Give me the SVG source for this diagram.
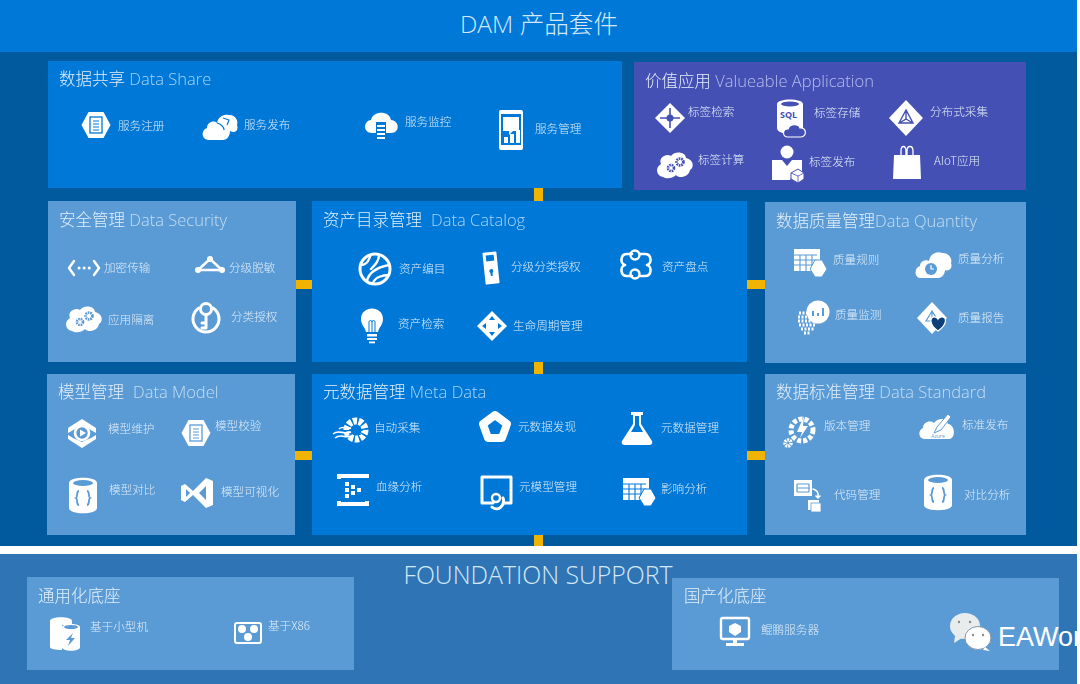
<svg xmlns="http://www.w3.org/2000/svg" width="1080" height="684" viewBox="0 0 1080 684" stroke-width="2.4">
<style>
text{font-family:"Open Sans","Noto Sans CJK SC",sans-serif;stroke:none}
.h{font-size:16.5px;font-weight:300;fill:#e2eff9;filter:url(#soft)}
.a{fill:#a8d5f7}.b{fill:#c3ddf3}.p{fill:#b4bdec}
.l{font-size:11.6px;fill:#dcebf7;font-family:"Noto Sans CJK SC","Noto Sans",sans-serif;font-weight:300;filter:url(#soft)}
.big{font-weight:300;fill:#d3e8f8;text-anchor:middle}
.dk{fill:#0078d7}.lt{fill:#5b9bd5}.pu{fill:#4550b4}
.c{fill:#f0b400}
.w{fill:#fff}
.s{fill:none;stroke:#fff;stroke-linecap:round;stroke-linejoin:round}
.k{fill:none;stroke:currentColor}
.kf{fill:currentColor}
</style>
<defs>
<filter id="soft" x="-5%" y="-15%" width="110%" height="130%"><feGaussianBlur stdDeviation="0.3"/></filter>
<g id="hexdoc"><polygon class="w" points="-14.500,0 -7.500,-13 7.500,-13 14.500,0 7.500,13 -7.500,13"/><rect class="k" stroke-width="1.300" x="-6" y="-8" width="12" height="16"/><path class="k" d="M-3,-4H3M-3,-1H3M-3,2H3M-3,5H3" stroke-width="1"/></g>
<g id="cloudgears"><path class="w" d="M-12,13C-19,12 -20,3 -14,0C-17,-7 -8,-11 -4,-8C0,-14 11,-12 11,-6C18,-5 20,3 15,6C14,13 4,15 1,11C-3,15 -9,15 -12,13Z"/><circle class="k" cx="-4" cy="4" r="3" stroke-width="2.600" stroke-dasharray="1.600 .8"/><circle class="k" cx="5" cy="-2" r="3.400" stroke-width="2.800" stroke-dasharray="1.600 .8"/></g>
<g id="dbcode"><path class="w" d="M-14,-12C-14,-19 14,-19 14,-12V13C14,20 -14,20 -14,13Z"/><ellipse class="kf" cx="0" cy="-12" rx="10" ry="3"/><path class="k" stroke-width="1.800" d="M-4,-4C-7,-4 -5,2 -7,3C-5,4 -7,10 -4,10M4,-4C7,-4 5,2 7,3C5,4 7,10 4,10"/></g>
<g id="tablehex"><rect class="w" x="-15" y="-14" width="26" height="22"/><path class="k" d="M-15,-8H8M-15,-3H8M-15,2H8M-9,-8V8M-3,-8V8M3,-8V8" stroke-width="1.100"/><polygon class="w" stroke="currentColor" stroke-width="1" points="1,6 6,-3 13,-3 18,6 13,14 6,14"/></g>
<g id="diamond"><polygon class="w" points="0,-15 15,0 0,15 -15,0"/></g>
</defs>

<rect x="0" y="0" width="1080" height="684" fill="#fff"/>
<rect x="0" y="0" width="1077" height="52" fill="#0078d7"/>
<rect x="0" y="52" width="1077" height="494" fill="#015a9e"/>
<rect x="0" y="554" width="1077" height="130" fill="#2f75b5"/>
<text class="big" font-size="24.600" x="539" y="33">DAM 产品套件</text>

<g id="connectors" class="c">
<rect x="534" y="188" width="9" height="13"/>
<rect x="296" y="280" width="16" height="9"/>
<rect x="747" y="280" width="18" height="9"/>
<rect x="534" y="362" width="9" height="12"/>
<rect x="295" y="451" width="17" height="9"/>
<rect x="747" y="451" width="18" height="9"/>
<rect x="534" y="535" width="9" height="11"/>
</g>

<g id="data-share" color="#0078d7">
<rect class="dk" x="48" y="61" width="574" height="127"/>
<text class="h" x="59" y="85">数据共享 <tspan class="a">Data Share</tspan></text>
<use href="#hexdoc" transform="translate(96,125)"/>
<text class="l" x="118" y="130">服务注册</text>
<g transform="translate(221,127)"><path class="w" d="M-13,13C-20,12 -20,3 -14,1C-14,-5 -7,-7 -4,-4C-3,-11 4,-13 8,-12C13,-13 18,-7 16,-2C18,3 14,7 9,4C9,9 6,13 2,13Z"/><path class="k" stroke-width="1.200" d="M-4,-4C0,-3 3,0 3,3M2,-9L8,-7L6,-2"/></g>
<text class="l" x="244" y="129">服务发布</text>
<g transform="translate(381,124)"><path class="w" d="M-9,9C-18,9 -18,-3 -10,-4C-8,-13 8,-14 10,-4C19,-3 19,9 10,9H5V-2H-5V9Z"/><path class="s" stroke-width="2" style="stroke-linecap:butt" d="M-4,2H4M-4,6H4M-4,10H4M-4,14H4"/></g>
<text class="l" x="405" y="126">服务监控</text>
<g transform="translate(511,130)"><rect class="w" x="-12" y="-20" width="24" height="40" rx="2"/><rect class="kf" x="-10" y="-16" width="20" height="31"/><path class="w" d="M-8,-13H8V1H2L-2,5V1H-8Z"/><path class="w" d="M-7,13V7H-3V13ZM-1,13V4H3V13ZM5,13V0H9V13Z"/></g>
<text class="l" x="535" y="133">服务管理</text>
</g>

<g id="value-application" color="#4550b4">
<rect class="pu" x="634" y="62" width="392" height="128"/>
<text class="h" x="645" y="87">价值应用 <tspan class="p">Valueable Application</tspan></text>
<g transform="translate(670,118)"><use href="#diamond"/><path class="k" stroke-width="1.600" d="M-10,0H10M0,-10V10"/><circle class="kf" cx="0" cy="0" r="3.500"/></g>
<text class="l" x="688" y="116">标签检索</text>
<g transform="translate(790,117)"><path class="w" d="M-13,-13C-13,-19 13,-19 13,-13V11C13,15 6,17 0,17C-6,17 -13,15 -13,11Z"/><ellipse class="kf" cx="0" cy="-13" rx="9" ry="2.500"/><text x="-10" y="1" font-size="9" font-weight="700" fill="#4550b4">SQL</text><path d="M-2,20C-8,20 -8,12 -2,12C0,6 9,7 10,11C17,10 17,20 11,20Z" fill="#4550b4" stroke="#fff" stroke-width="1.200"/></g>
<text class="l" x="814" y="117">标签存储</text>
<g transform="translate(906,118)"><polygon class="w" points="0,-18 17,0 0,18 -17,0"/><path class="k" stroke-width="1.400" d="M0,-8L-7,5H7ZM0,-8V1L-7,5M0,1L7,5"/></g>
<text class="l" x="930" y="116">分布式采集</text>
<use href="#cloudgears" transform="translate(675,164)"/>
<text class="l" x="698" y="164">标签计算</text>
<g transform="translate(787,164)"><circle class="w" cx="0" cy="-12" r="6.500"/><path class="w" d="M-15,-4H-5L0,2L5,-4H15V8H6L3,16H-15Z"/><path d="M4,9L11,5L17,9V15L11,19L4,15Z" fill="#fff" stroke="#4550b4" stroke-width="1"/><path class="k" stroke-width=".8" d="M4,9L11,12L17,9M11,12V19"/></g>
<text class="l" x="809" y="166">标签发布</text>
<g transform="translate(907,162)"><path class="w" d="M-13,-7H13L14,17H-14Z"/><path class="s" stroke-width="1.300" d="M-6,-7V-11C-6,-17 -1,-17 -1,-11V-7M0,-7V-11C0,-17 6,-17 6,-11V-7"/></g>
<text class="l" x="934" y="165">AIoT应用</text>
</g>

<g id="data-security" color="#5b9bd5">
<rect class="lt" x="48" y="201" width="248" height="161"/>
<text class="h" x="59" y="226">安全管理 <tspan class="b">Data Security</tspan></text>
<path class="s" transform="translate(84,268)" d="M-10,-7L-15,0L-10,7M10,-7L15,0L10,7"/>
<path class="s" stroke-width="3" stroke-dasharray=".1 5" transform="translate(84,268)" d="M-5,0H6"/>
<text class="l" x="104" y="272">加密传输</text>
<g transform="translate(210,265)"><path class="s" d="M0,-6L-12,5H12Z"/><circle class="w" cx="0" cy="-6" r="3"/><circle class="w" cx="-12" cy="5" r="3"/><circle class="w" cx="12" cy="5" r="3"/></g>
<text class="l" x="229" y="272">分级脱敏</text>
<use href="#cloudgears" transform="translate(84,318)"/>
<text class="l" x="108" y="324">应用隔离</text>
<g transform="translate(206,319)"><path class="s" stroke-width="3" d="M-7,-11A13,13 0 1 0 7,-11"/><circle class="s" stroke-width="3" cx="0" cy="-10" r="5.500"/><path class="s" stroke-width="3" d="M0,-4V9M0,4H-4M0,9H-4"/></g>
<text class="l" x="231" y="321">分类授权</text>
</g>

<g id="data-catalog" color="#0078d7">
<rect class="dk" x="312" y="201" width="435" height="161"/>
<text class="h" x="323" y="226">资产目录管理 <tspan class="a" x="431">Data Catalog</tspan></text>
<g transform="translate(375,269)"><circle class="s" r="15" stroke-width="3"/><path class="s" d="M-14,-4C-6,-4 -6,-12 -4,-14M-8,12C-6,2 4,-2 14,-4M-2,14C0,8 8,6 14,6M4,-14C4,-8 0,-4 -4,0"/></g>
<text class="l" x="399" y="273">资产编目</text>
<g transform="translate(491,268) rotate(-6)"><rect class="w" x="-7" y="-16" width="14" height="32" rx="1"/><rect class="kf" x="-4" y="-13" width="8" height="6"/><circle class="kf" cx="0" cy="3" r="2"/><rect class="kf" x="-1" y="3" width="2" height="5"/></g>
<text class="l" x="511" y="271">分级分类授权</text>
<g transform="translate(636,265)"><path class="s" stroke-width="2.600" d="M-4,-11H-9C-16,-11 -16,-1 -11,0C-16,1 -16,11 -9,11H-4M4,-11H9C16,-11 16,-1 11,0C16,1 16,11 9,11H4"/><circle class="s" cx="-1" cy="-10" r="4.500"/><circle class="s" cx="-1" cy="9" r="4.500"/></g>
<text class="l" x="662" y="271">资产盘点</text>
<g transform="translate(372,325)"><path class="w" d="M-6,7C-7,2 -11,0 -11,-6C-11,-20 11,-20 11,-6C11,0 7,2 6,7Z"/><path class="k" stroke-width="1" d="M-3,7V-3A1.500,1.500 0 0 1 0,-3V7M0,-3A1.500,1.500 0 0 1 3,-3V7"/><rect class="w" x="-5" y="9" width="10" height="2.500"/><rect class="w" x="-5" y="13" width="10" height="2"/><rect class="w" x="-3" y="16.500" width="6" height="1.800"/></g>
<text class="l" x="398" y="328">资产检索</text>
<g transform="translate(492,326)"><use href="#diamond"/><path class="kf" d="M0,-10L3,-6H-3ZM0,10L3,6H-3ZM-10,0L-6,3V-3ZM10,0L6,3V-3Z"/></g>
<text class="l" x="513" y="330">生命周期管理</text>
</g>

<g id="data-quality" color="#5b9bd5">
<rect class="lt" x="765" y="202" width="261" height="161"/>
<text class="h" x="776" y="227">数据质量管理<tspan class="b">Data Quantity</tspan></text>
<use href="#tablehex" transform="translate(809,263)"/>
<text class="l" x="833" y="264">质量规则</text>
<g transform="translate(934,265)"><path class="w" d="M-14,13C-20,12 -20,3 -14,1C-14,-4 -8,-6 -5,-4C-4,-12 4,-14 8,-12C13,-13 19,-7 17,-2C19,3 15,7 11,5C11,9 8,13 4,13Z"/><circle class="kf" cx="-3" cy="4" r="6"/><path d="M-3,0V4H0" stroke="#fff" fill="none" stroke-width="1.200"/></g>
<text class="l" x="958" y="263">质量分析</text>
<g transform="translate(812,319)"><path class="s" stroke-width="3" style="stroke-linecap:butt" stroke-dasharray="2 1.500" d="M-13,-6H4M-14,-2H6M-14,2H6M-13,6H4M-11,10H2M-8,14H-1"/><circle class="w" cx="6" cy="-7" r="11.500"/><path class="k" stroke-width="2" d="M1,-3V-8M6,-3V-6M11,-3V-11"/></g>
<text class="l" x="835" y="319">质量监测</text>
<g transform="translate(934,318)"><polygon class="w" points="-2,-16 13,0 -2,16 -17,0"/><path class="k" stroke-width="1.200" d="M-2,-7L-8,3H4ZM-2,-7V0"/><path d="M4,13C-6,6 -4,-2 1,-1C3,-1 4,1 4,1C4,1 5,-1 7,-1C13,-2 14,6 4,13Z" fill="#0c3f78" stroke="#fff" stroke-width="1.300"/></g>
<text class="l" x="958" y="322">质量报告</text>
</g>

<g id="data-model" color="#5b9bd5">
<rect class="lt" x="47" y="374" width="248" height="161"/>
<text class="h" x="58" y="398">模型管理 <tspan class="b" x="133">Data Model</tspan></text>
<g transform="translate(82,433)"><path class="w" d="M-14,-5L0,-14L14,-5V0L0,-8L-14,0ZM-14,2L-9,5L0,9L9,5L14,2V6L0,15L-14,6Z"/><circle class="s" r="7" stroke-width="2.600"/><polygon class="w" points="-2,-3.500 4,0 -2,3.500"/></g>
<text class="l" x="108" y="433">模型维护</text>
<use href="#hexdoc" transform="translate(196,433)"/>
<text class="l" x="215" y="430">模型校验</text>
<use href="#dbcode" transform="translate(83,495)"/>
<text class="l" x="109" y="494">模型对比</text>
<path class="w" transform="translate(197,493)" d="M-16,-7L-12,-9L-4,-2L9,-15L16,-12V12L9,15L-4,2L-12,9L-16,7ZM-11,-4V4L-7,0ZM9,-7L2,0L9,7Z" fill-rule="evenodd"/>
<text class="l" x="221" y="496">模型可视化</text>
</g>

<g id="meta-data" color="#0078d7">
<rect class="dk" x="312" y="374" width="435" height="161"/>
<text class="h" x="323" y="398">元数据管理 <tspan class="a">Meta Data</tspan></text>
<g transform="translate(351,430)"><circle class="s" cx="5" cy="0" r="9" stroke-width="7" style="stroke-linecap:butt" stroke-dasharray="4 1.600"/><path fill="none" stroke="#fff" stroke-width="1.600" d="M-18,4C-12,-1 -8,5 -2,2M-16,8C-10,3 -6,9 0,6M-12,-1C-8,-5 -6,0 0,-2"/><path fill="none" stroke="#0078d7" stroke-width="1.200" d="M-2,0C2,-2 6,2 12,0M-2,4C2,2 6,6 10,4"/></g>
<text class="l" x="374" y="432">自动采集</text>
<g transform="translate(495,427)"><path class="s" stroke-width="8" d="M0,-12L12,-3L7,11H-7L-12,-3Z"/></g>
<text class="l" x="518" y="431">元数据发现</text>
<g transform="translate(637,429)"><path class="w" d="M-6,-17H6V-14H4V-5L15,12C16,15 14,16 12,16H-12C-14,16 -16,15 -15,12L-4,-5V-14H-6Z"/><path class="kf" d="M-2,-13H2V-4L6,3H-6L-2,-4Z"/></g>
<text class="l" x="661" y="432">元数据管理</text>
<g transform="translate(353,490)"><path class="w" d="M-16,-16H16V-12H-12V-11H-16ZM-16,11H-12V12H12V11H16V16H-16Z"/><path class="w" d="M-8,-8H-4V-4H-8ZM-8,-2H-4V2H-8ZM-8,4H-4V8H-8ZM-2,-5H2V-1H-2ZM-2,1H2V5H-2ZM4,-2H8V2H4Z"/></g>
<text class="l" x="376" y="491">血缘分析</text>
<g transform="translate(496,492)"><path class="s" stroke-width="3" d="M-3,11H-14V-15H15V11H8"/><circle class="s" cx="0" cy="6" r="4"/><path class="s" stroke-width="3" d="M7,6A7,8 0 0 1 -4,15"/></g>
<text class="l" x="519" y="491">元模型管理</text>
<use href="#tablehex" transform="translate(638,492)"/>
<text class="l" x="661" y="493">影响分析</text>
</g>

<g id="data-standard" color="#5b9bd5">
<rect class="lt" x="765" y="374" width="261" height="161"/>
<text class="h" x="776" y="398">数据标准管理 <tspan class="b">Data Standard</tspan></text>
<g transform="translate(802,430)"><circle class="s" cx="0" cy="0" r="11" stroke-width="5" style="stroke-linecap:butt" stroke-dasharray="4 2"/><path class="w" d="M2,-14L-5,2H0L-2,8L6,-4H1Z"/><circle class="s" cx="-14" cy="13" r="3" stroke-width="3.500" style="stroke-linecap:butt" stroke-dasharray="1.800 .8"/></g>
<text class="l" x="824" y="430">版本管理</text>
<g transform="translate(938,427)"><path class="w" d="M-14,12C-20,11 -20,3 -15,1C-15,-5 -8,-7 -4,-4C0,-10 9,-9 10,-3C17,-2 18,10 12,12Z"/><path d="M-4,6L-1,0L10,-13L13,-10L3,3Z" fill="#fff" stroke="#5b9bd5" stroke-width="1"/><text x="0" y="11" font-size="5" fill="#5b9bd5" text-anchor="middle">Azure</text></g>
<text class="l" x="962" y="429">标准发布</text>
<g transform="translate(805,495)"><rect class="w" x="-11" y="-15" width="18" height="16"/><path class="k" stroke-width="1.200" d="M-8,-11H4M-8,-7H4M-8,-3H4M-8,-11V-3M4,-11V-3"/><path class="s" stroke-width="1.600" d="M8,-6C12,-5 14,-2 13,2M11,1L13,3L15,1"/><rect class="w" x="3" y="5" width="11" height="10"/><rect x="6" y="8" width="10" height="9" fill="#fff" stroke="#5b9bd5" stroke-width=".8"/></g>
<text class="l" x="834" y="499">代码管理</text>
<use href="#dbcode" transform="translate(938,492)"/>
<text class="l" x="964" y="499">对比分析</text>
</g>

<g id="foundation">
<text class="big" font-size="24.800" x="538" y="584">FOUNDATION SUPPORT</text>
</g>

<g id="general-base" color="#5b9bd5">
<rect class="lt" x="27" y="577" width="327" height="93"/>
<text class="h" x="38" y="602">通用化底座</text>
<g transform="translate(65,634)"><path class="w" d="M-15,-13C-15,-18 7,-18 7,-13V-9H-3V16C-10,16 -15,15 -15,13Z"/><path class="w" d="M-3,-7C-3,-11 15,-11 15,-7V13C15,18 -3,18 -3,13Z"/><ellipse class="kf" cx="6" cy="-7" rx="7" ry="2"/><path class="kf" d="M8,-1L1,6H5L3,12L10,4H6Z"/></g>
<text class="l" x="90" y="631">基于小型机</text>
<g transform="translate(248,633)"><rect class="s" x="-13" y="-10" width="26" height="20" rx="2" stroke-width="2"/><circle class="w" cx="-6" cy="-4" r="4"/><circle class="w" cx="6" cy="-4" r="4"/><circle class="w" cx="0" cy="4" r="4"/></g>
<text class="l" x="268" y="630">基于X86</text>
</g>

<g id="domestic-base" color="#5b9bd5">
<rect class="lt" x="672" y="578" width="387" height="92"/>
<text class="h" x="684" y="602">国产化底座</text>
<g transform="translate(735,632)"><rect class="s" x="-14" y="-14" width="28" height="21" rx="2"/><path class="w" d="M0,-9L6,-6V0L0,4L-6,0V-6Z"/><path class="w" d="M-2,7H2V11H9V14H-9V11H-2Z"/></g>
<text class="l" x="761" y="634">鲲鹏服务器</text>
</g>

<g id="watermark">
<ellipse cx="965" cy="626" rx="15" ry="13" fill="#e9ecec"/>
<path d="M955,636L954,643L962,638Z" fill="#e9ecec"/>
<ellipse cx="978" cy="638" rx="13" ry="11.500" fill="#fff" stroke="#7f97ad" stroke-width="1"/>
<path d="M985,647L990,651L983,650Z" fill="#fff"/>
<circle cx="959" cy="622" r="1.200" fill="#8a8a8a"/><circle cx="970" cy="622" r="1.200" fill="#8a8a8a"/>
<circle cx="973" cy="635" r="1.200" fill="#8a8a8a"/><circle cx="983" cy="635" r="1.200" fill="#8a8a8a"/>
<text x="998" y="646" font-size="27" fill="#fff" style="font-family:'Liberation Sans',sans-serif">EAWor</text>
</g>
</svg>
